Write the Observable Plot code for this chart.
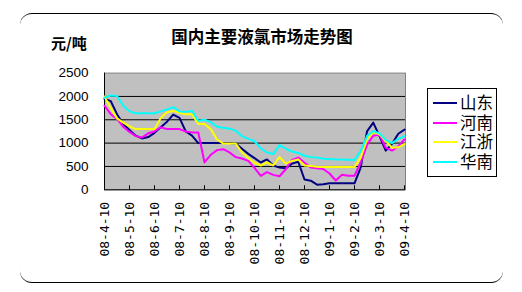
<!DOCTYPE html>
<html><head><meta charset="utf-8">
<script src="https://cdn.jsdelivr.net/npm/d3@7"></script>
<script src="https://cdn.jsdelivr.net/npm/@observablehq/plot@0.6"></script>
<style>
body{margin:0;background:#fff;}
#wrap{position:relative;width:522px;height:292px;overflow:hidden;font-family:"Noto Sans CJK SC",sans-serif;}
#frame{position:absolute;left:20px;top:13px;width:483px;height:270px;border-top:1px solid #000;border-bottom:1px solid #000;border-left:0;border-right:0;border-radius:12px;box-sizing:border-box;}
#title{position:absolute;left:0;top:25px;width:524px;height:22px;line-height:22px;text-align:center;font-size:16.5px;font-weight:bold;color:#000;}
#unit{position:absolute;left:51px;top:33px;height:20px;line-height:20px;font-size:15px;font-weight:bold;color:#000;}
#plot{position:absolute;left:0;top:0;}
#legend{position:absolute;left:427px;top:88px;width:70px;height:89px;border:1px solid #000;background:#fff;box-sizing:border-box;padding-top:4px;}
.row{height:19.5px;position:relative;}
.sw{position:absolute;left:5px;top:9px;width:24px;height:2px;}
.lb{position:absolute;left:32px;top:1px;height:17px;line-height:17px;font-size:16.5px;color:#000;white-space:nowrap;}
</style>
</head><body>
<div id="wrap">
  <div id="frame"></div>
  <div id="plot"></div>
  <div id="title"></div>
  <div id="unit"></div>
  <div id="legend"></div>
</div>
<script>
const titleText = "国内主要液氯市场走势图";
const unitText = "元/吨";
const xLabels = ["08-4-10","08-5-10","08-6-10","08-7-10","08-8-10","08-9-10","08-10-10","08-11-10","08-12-10","09-1-10","09-2-10","09-3-10","09-4-10"];
const yTicks = [0, 500, 1000, 1500, 2000, 2500];
const seriesNames = ["山东", "河南", "江浙", "华南"];
const seriesColors = ["#000080", "#FF00FF", "#FFFF00", "#00FFFF"];

// weekly-ish readings (4 per month label interval)
const shandong = [1950,1900,1620,1410,1280,1160,1100,1130,1220,1340,1460,1610,1540,1250,1160,1000,1000,1000,1000,1000,1000,990,880,770,680,585,650,520,475,460,560,600,220,195,110,120,140,140,140,140,140,480,1250,1440,1150,840,980,1200,1290];
const henan    = [1800,1620,1520,1350,1240,1150,1120,1210,1250,1340,1300,1300,1300,1250,1230,1230,585,750,850,870,800,700,670,620,470,300,380,320,290,440,640,690,580,480,460,445,350,200,320,300,300,585,960,1160,1180,900,840,930,1080];
const jiangzhe = [2000,1750,1530,1440,1360,1300,1300,1300,1300,1540,1660,1690,1650,1620,1620,1410,1410,1300,1080,990,990,990,800,680,580,520,590,520,700,560,620,650,520,510,495,490,490,490,490,490,490,690,1080,1230,1190,1050,900,910,980];
const huanan   = [1975,2020,2010,1800,1680,1640,1640,1640,1640,1680,1720,1770,1680,1670,1690,1480,1500,1450,1350,1330,1310,1265,1150,1090,1040,890,800,765,960,880,820,790,730,700,690,665,660,650,650,645,640,835,1150,1260,1210,1070,1000,1090,1150];

const seriesValues = [shandong, henan, jiangzhe, huanan];
const perTick = 4;
const tickIdx = xLabels.map((_, i) => i * perTick);

const rows = [];
seriesValues.forEach((vals, s) => vals.forEach((v, i) => rows.push({i, v, s: seriesNames[s]})));

document.getElementById("title").textContent = titleText;
document.getElementById("unit").textContent = unitText;

const chart = Plot.plot({
  width: 522, height: 292,
  marginLeft: 104, marginRight: 117, marginTop: 72.6, marginBottom: 102.7,
  style: {background: "transparent", fontFamily: "Liberation Sans", color: "#000", overflow: "visible"},
  x: {domain: [0, 48.16], label: null},
  y: {domain: [0, 2500], label: null},
  color: {domain: seriesNames, range: seriesColors},
  marks: [
    Plot.frame({fill: "#C0C0C0", stroke: null}),
    Plot.gridY(yTicks.slice(1, -1), {stroke: "#000", strokeOpacity: 1}),
    Plot.frame({stroke: "#808080"}),
    Plot.ruleX([0], {stroke: "#000"}),
    Plot.ruleY([0], {stroke: "#000"}),
    Plot.axisY({ticks: yTicks, tickSize: 0, tickPadding: 16, fontSize: 13.5, fontFamily: "Liberation Sans",
      tickFormat: d => String(d), label: null}),
    Plot.axisX({ticks: tickIdx, tickSize: -4, tickFormat: () => "", label: null}),
    Plot.axisX({ticks: tickIdx, tickSize: 0, tickRotate: -90, tickPadding: 12, label: null,
      tickFormat: d => xLabels[Math.round(d / perTick)], fontSize: 13, fontFamily: "DejaVu Sans Mono"}),
    Plot.line(rows, {x: "i", y: "v", z: "s", stroke: "s", strokeWidth: 2, curve: "linear"})
  ]
});
document.getElementById("plot").appendChild(chart);

const legend = document.getElementById("legend");
seriesNames.forEach((n, k) => {
  const r = document.createElement("div"); r.className = "row";
  const sw = document.createElement("div"); sw.className = "sw"; sw.style.background = seriesColors[k];
  const lb = document.createElement("div"); lb.className = "lb"; lb.textContent = n;
  r.appendChild(sw); r.appendChild(lb); legend.appendChild(r);
});
</script>
</body></html>
